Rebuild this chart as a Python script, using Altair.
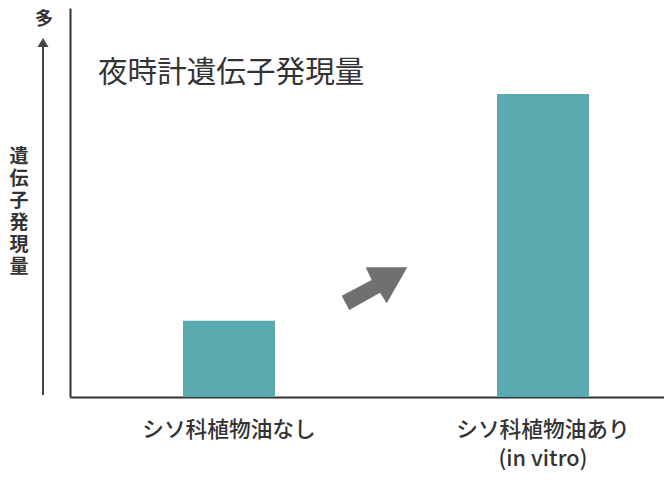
import altair as alt
import pandas as pd

categories = ["シソ科植物油なし", "シソ科植物油あり\n(in vitro)"]
values = [19.6, 77.9]
title_text = "夜時計遺伝子発現量"
ylabel_text = "遺\n伝\n子\n発\n現\n量"
top_text = "多"

df = pd.DataFrame({"cat": categories, "val": values})

FONT = "Noto Sans CJK JP"
TEXT_COLOR = "#333333"

xscale = alt.Scale(type="band", domain=categories, paddingInner=0.707,
                   paddingOuter=0.2994, align=0.601)
yscale = alt.Scale(domain=[0, 100])

bars = alt.Chart(df).mark_bar(color="#5aaab0").encode(
    x=alt.X("cat:N", scale=xscale, sort=categories,
            axis=alt.Axis(title=None, ticks=False, domain=True, domainColor="#333333",
                          domainWidth=2, labelFont=FONT, labelFontSize=21.7,
                          labelFontWeight=500, labelColor=TEXT_COLOR, labelAngle=0,
                          labelPadding=22, labelLineHeight=29,
                          labelExpr="split(datum.label, '\\n')")),
    y=alt.Y("val:Q", scale=yscale,
            axis=alt.Axis(title=None, ticks=False, labels=False, grid=False,
                          domainColor="#333333", domainWidth=2)),
)

title = alt.Chart(pd.DataFrame({"t": [title_text]})).mark_text(
    font=FONT, fontSize=29.6, color=TEXT_COLOR, align="left", baseline="middle"
).encode(x=alt.value(28), y=alt.value(64.5), text="t:N")

ylabel = alt.Chart(pd.DataFrame({"t": [ylabel_text]})).mark_text(
    font=FONT, fontSize=19, fontWeight="bold", color=TEXT_COLOR, align="center",
    baseline="middle", lineBreak="\n", lineHeight=22
).encode(x=alt.value(-51), y=alt.value(149), text="t:N")

toplabel = alt.Chart(pd.DataFrame({"t": [top_text]})).mark_text(
    font=FONT, fontSize=18, fontWeight="bold", color=TEXT_COLOR, align="center",
    baseline="middle"
).encode(x=alt.value(-26), y=alt.value(12), text="t:N")

shaft = alt.Chart(pd.DataFrame({"a": [0]})).mark_rule(color="#444444", strokeWidth=2).encode(
    x=alt.value(-27), y=alt.value(387), y2=alt.value(37)
)

head = alt.Chart(pd.DataFrame({"a": [0]})).mark_point(
    shape="M0,-0.8 L1,0.8 L-1,0.8 Z", filled=True, color="#444444", opacity=1, size=121
).encode(x=alt.value(-27), y=alt.value(34.5))

arrow_path = ("M-0.994,0.212 L-0.085,-0.264 L-0.267,-0.648 L0.994,-0.648 "
              "L0.370,0.442 L0.167,0.121 L-0.764,0.645 Z")
arrow = alt.Chart(pd.DataFrame({"a": [0]})).mark_point(
    shape=arrow_path, filled=True, color="#707070", opacity=1, size=4356, strokeWidth=0
).encode(x=alt.value(304.5), y=alt.value(280.7))

chart = alt.layer(bars, title, ylabel, toplabel, shaft, head, arrow).properties(
    width=594, height=389,
    autosize=alt.AutoSizeParams(type="none"),
    padding={"left": 62, "top": 0, "right": 0, "bottom": 74},
    background="white",
).configure_view(stroke=None)

chart.save("out.html", embed_options={"renderer": "svg", "actions": False})
